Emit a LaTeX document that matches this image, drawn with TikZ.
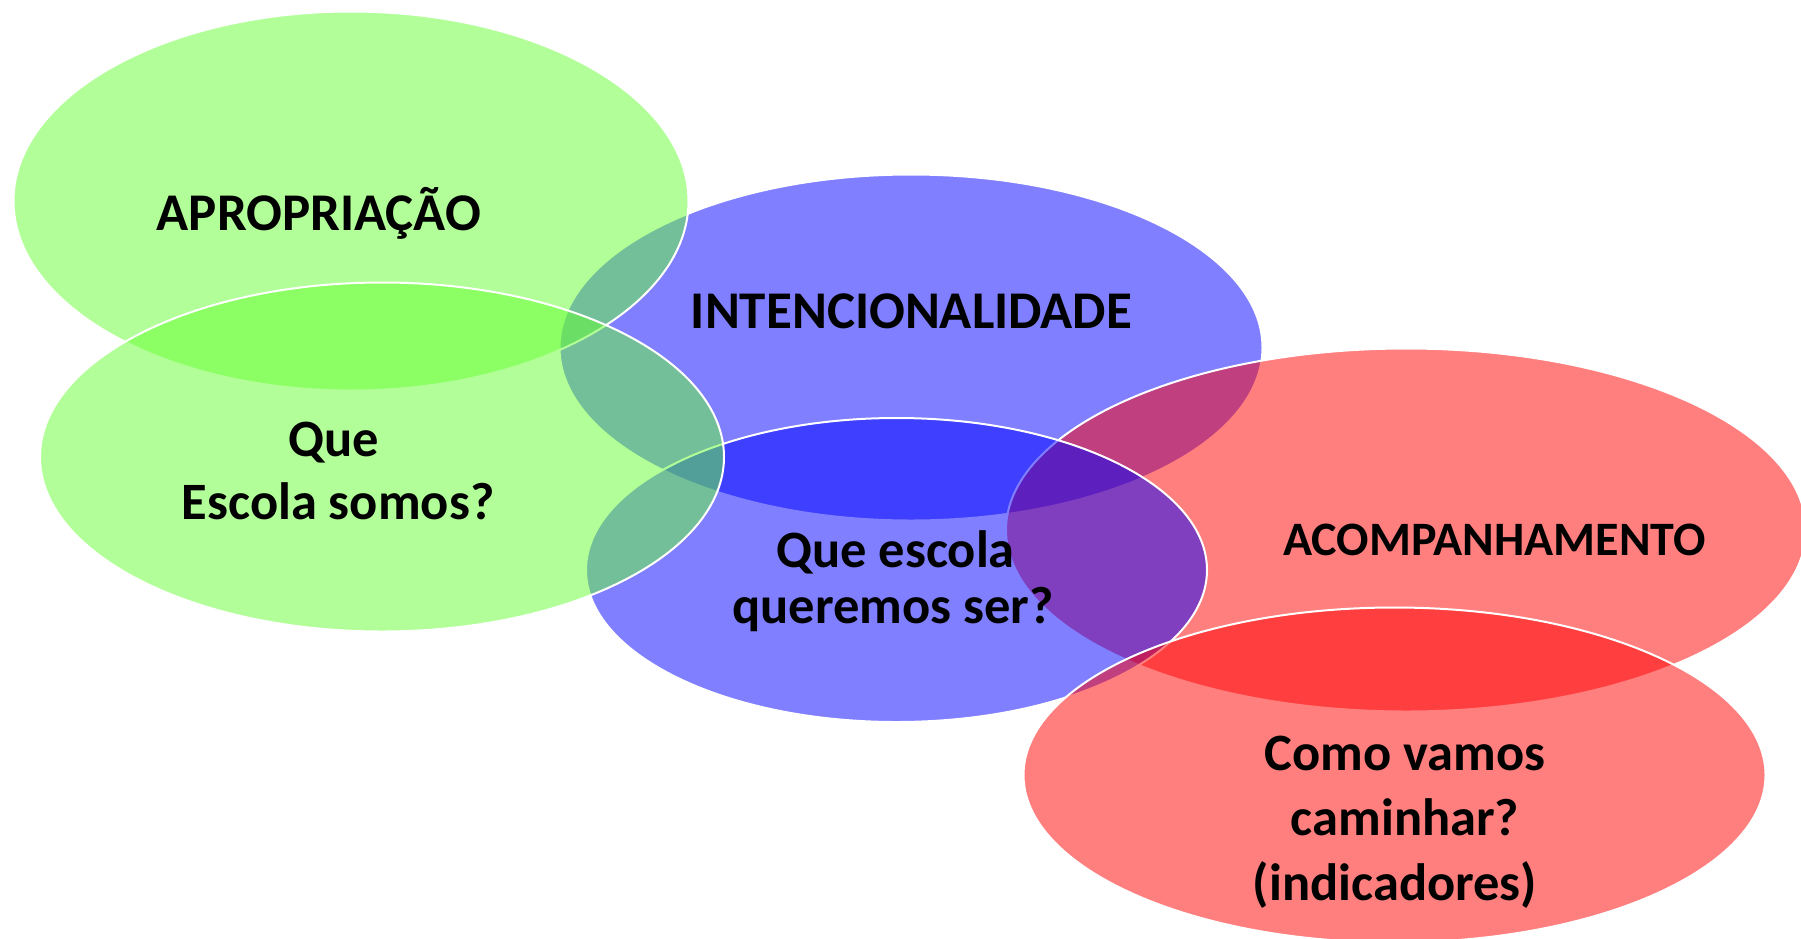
\documentclass[tikz,border=0pt]{standalone}
\usepackage{fontspec}
\setmainfont{Carlito}
\usetikzlibrary{shapes.geometric}
\definecolor{cgreen}{RGB}{102,255,51}
\definecolor{cblue}{RGB}{0,0,255}
\definecolor{cred}{RGB}{255,0,0}
\tikzset{
  blob/.style={ellipse, inner sep=0pt, outer sep=0pt, draw=white, line width=2pt, fill opacity=0.5, draw opacity=1},
  lbl/.style={anchor=base, inner sep=0pt, text=black, font=\fontsize{53}{64}\selectfont\bfseries},
  qlbl/.style={lbl, font=\fontsize{52.5}{64}\selectfont\bfseries},
  slbl/.style={lbl, font=\fontsize{48}{58}\selectfont\bfseries}
}
\begin{document}
\begin{tikzpicture}[x=1pt, y=-1pt]
\useasboundingbox (0,0) rectangle (1801,938);
\clip (0,0) rectangle (1801,938);
% drawing order reproduces the overlaps of the reference
\node[blob, fill=cblue, minimum width=703pt, minimum height=346pt] (bTop) at (911,347.5) {};
\node[blob, fill=cred, minimum width=800pt, minimum height=363pt] (rTop) at (1406,530) {};
\node[blob, fill=cblue, minimum width=621pt, minimum height=304pt] (bLow) at (896.5,570) {};
\node[blob, fill=cgreen, minimum width=675pt, minimum height=379pt] (gTop) at (351,201) {};
\node[blob, fill=cgreen, minimum width=684pt, minimum height=349pt] (gLow) at (382,457) {};
\node[blob, fill=cred, minimum width=742pt, minimum height=335pt] (rLow) at (1394.5,775) {};
% labels
\node[lbl] (t1) at (319,230) {APROPRIAÇÃO};
\node[lbl] (t2) at (911.5,328.5) {INTENCIONALIDADE};
\node[slbl] (t3) at (1494.5,555) {ACOMPANHAMENTO};
\node[qlbl] (t4a) at (334,456) {Que};
\node[qlbl] (t4b) at (338,519) {Escola somos?};
\node[qlbl] (t5a) at (895.5,567) {Que escola};
\node[qlbl] (t5b) at (893,623.5) {queremos ser?};
\node[qlbl] (t6a) at (1405,770) {Como vamos};
\node[qlbl] (t6b) at (1405,835) {caminhar?};
\node[qlbl] (t6c) at (1395,900) {(indicadores)};
\end{tikzpicture}
\end{document}
